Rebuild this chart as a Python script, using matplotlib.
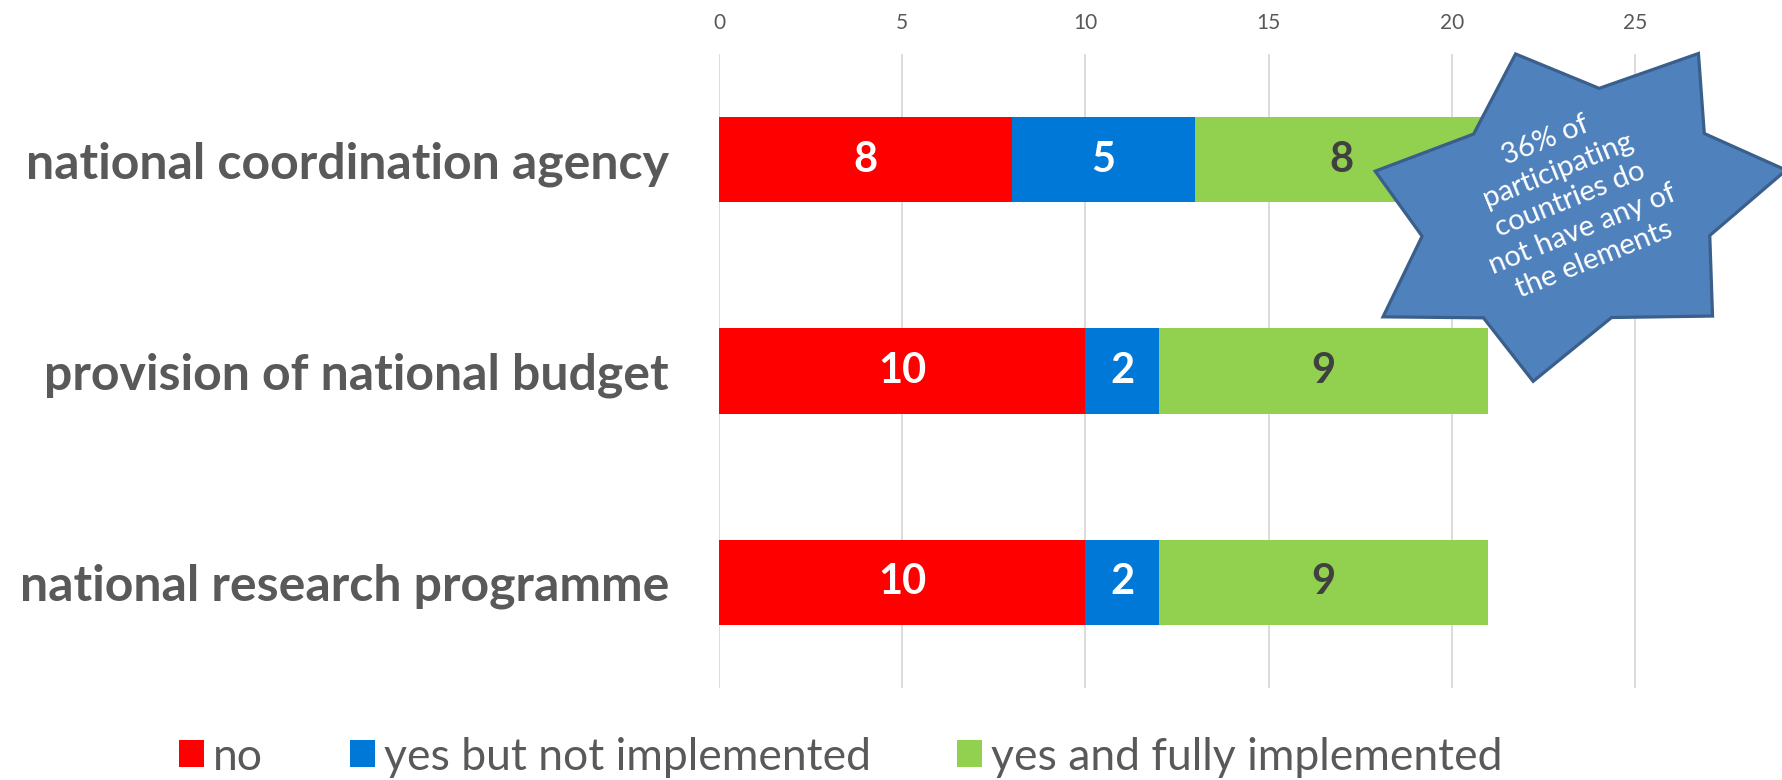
import numpy as np
import matplotlib.pyplot as plt
from matplotlib.patches import Patch, Polygon
from matplotlib.ticker import MultipleLocator

plt.rcParams['font.family'] = ['Lato', 'DejaVu Sans']

categories = ["national coordination agency", "provision of national budget", "national research programme"]
no_vals = [8, 10, 10]
partial_vals = [5, 2, 2]
full_vals = [8, 9, 9]

series_names = ["no", "yes but not implemented", "yes and fully implemented"]
colors = ["#FF0000", "#0078D7", "#92D050"]
label_colors = ["white", "white", "#404040"]

callout = "36% of\nparticipating\ncountries do\nnot have any of\nthe elements"

W, H = 1783, 780
fig = plt.figure(figsize=(W/100, H/100), dpi=100)
ax = fig.add_axes([719/W, 1 - 688/H, (W - 719)/W, 634/H])

y = np.arange(len(categories))
left = np.zeros(len(categories))
for vals, col, tcol, name in zip([no_vals, partial_vals, full_vals], colors, label_colors, series_names):
    bars = ax.barh(y, vals, left=left, height=0.405, color=col, label=name, zorder=3)
    ax.bar_label(bars, labels=[str(v) for v in vals], label_type="center",
                 color=tcol, fontsize=30, fontweight="bold")
    left += np.array(vals)

ax.set_ylim(len(categories) - 0.5, -0.5)
ax.set_xlim(0, (W - 719)/36.64)
ax.xaxis.set_major_locator(MultipleLocator(5))
ax.set_xticks([0, 5, 10, 15, 20, 25])
ax.xaxis.tick_top()
ax.tick_params(axis="x", length=0, pad=15, labelsize=15, labelcolor="#595959")
ax.set_yticks(y)
ax.set_yticklabels(categories, fontsize=36, fontweight="bold", color="#595959")
ax.tick_params(axis="y", length=0, pad=36)
ax.grid(axis="x", color="#D9D9D9", lw=1.3, zorder=0)
for s in ax.spines.values():
    s.set_visible(False)

# seven-point star callout, stretched and tilted
cx, cy = 1572, H - 209
a, b, r_in, rot = 220, 165, 0.7, np.deg2rad(20)
ang = np.deg2rad(90 + np.arange(14) * 360 / 14)
rad = np.where(np.arange(14) % 2 == 0, 1.0, r_in)
px = a * rad * np.cos(ang)
py = b * rad * np.sin(ang)
sx = cx + px * np.cos(rot) - py * np.sin(rot)
sy = cy + px * np.sin(rot) + py * np.cos(rot)
star = Polygon(np.column_stack([sx / W, sy / H]), closed=True, transform=fig.transFigure,
               facecolor="#4F81BD", edgecolor="#3A5F8B", lw=2.3, zorder=10)
fig.add_artist(star)
fig.text(1570/W, 1 - 200/H, callout, color="white", fontsize=21, rotation=22,
         ha="center", va="center", multialignment="center", linespacing=1.3,
         rotation_mode="anchor", zorder=11)

handles = [Patch(facecolor=c) for c in colors]
fig.legend(handles, series_names, loc="center", bbox_to_anchor=(841/W, 1 - 757/H), ncol=3,
           frameon=False, fontsize=32, labelcolor="#595959", handlelength=0.56,
           handleheight=0.56, handletextpad=0.2, columnspacing=1.95, borderpad=0)

fig.savefig("out.png", dpi=100)
